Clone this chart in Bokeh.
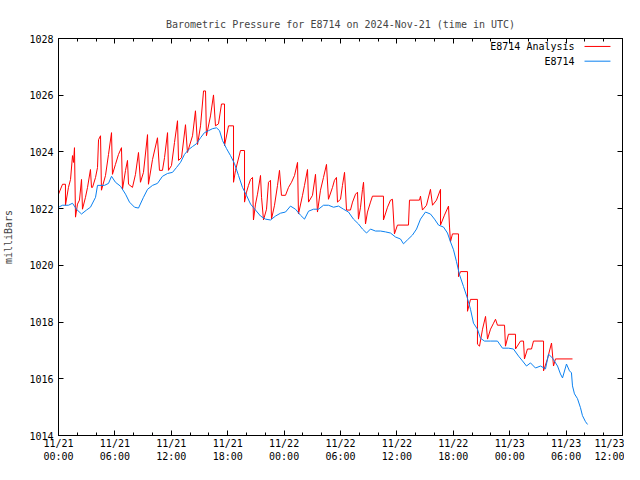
from bokeh.plotting import figure
from bokeh.models import FixedTicker, LinearAxis, Range1d, Label, Arrow
from bokeh.embed import file_html
from bokeh.resources import INLINE

# hours since 2024-11-21 00:00 UTC
blue_hours = [0.00, 0.43, 1.06, 1.49, 1.91, 2.45, 2.98, 3.40, 3.94, 4.15, 4.89, 5.32, 5.64, 6.06, 6.60,
              7.13, 7.55, 8.09, 8.51, 9.04, 9.47, 10.00, 10.53, 11.06, 11.60, 12.13, 12.55, 12.98, 13.40,
              13.83, 14.26, 14.68, 15.11, 15.53, 15.96, 16.38, 16.81, 17.13, 17.45, 17.87, 18.30, 18.72,
              19.15, 19.57, 20.00, 20.43, 20.96, 21.49, 22.02, 22.55, 23.09, 23.62, 24.15, 24.68, 25.21,
              25.74, 26.17, 26.60, 27.13, 27.66, 28.19, 28.72, 29.26, 29.79, 30.32, 30.85, 31.38, 31.91,
              32.34, 32.77, 33.19, 33.72, 34.26, 34.79, 35.32, 35.85, 36.38, 36.70, 37.13, 37.66, 38.09,
              38.51, 39.04, 39.57, 40.00, 40.43, 40.96, 41.38, 41.70, 42.02, 42.34, 42.66, 43.09, 43.51,
              43.83, 44.15, 44.57, 44.89, 45.32, 45.96, 46.70, 47.23, 47.87, 48.40, 48.94, 49.36, 49.79,
              50.21, 50.74, 51.28, 51.81, 52.13, 52.55, 53.09, 53.40, 53.62, 54.04, 54.36, 54.57, 54.68,
              54.89, 55.21, 55.53, 55.74, 56.06, 56.28]
blue_mbar = [1022.05, 1022.12, 1022.12, 1022.19, 1021.98, 1021.81, 1021.95, 1022.05, 1022.40, 1022.82,
             1022.82, 1022.89, 1023.14, 1022.93, 1022.79, 1022.51, 1022.23, 1022.05, 1022.02, 1022.40,
             1022.68, 1022.82, 1022.89, 1023.14, 1023.24, 1023.28, 1023.45, 1023.63, 1023.91, 1024.08,
             1024.19, 1024.29, 1024.50, 1024.68, 1024.75, 1024.82, 1024.85, 1024.75, 1024.40, 1024.12,
             1023.87, 1023.59, 1023.17, 1022.75, 1022.47, 1022.16, 1021.95, 1021.74, 1021.63, 1021.60,
             1021.74, 1021.84, 1021.88, 1022.09, 1021.98, 1021.77, 1021.63, 1021.91, 1021.98, 1021.98,
             1022.12, 1022.12, 1022.05, 1022.09, 1021.98, 1021.88, 1021.63, 1021.46, 1021.28, 1021.14,
             1021.28, 1021.21, 1021.21, 1021.18, 1021.14, 1021.00, 1020.93, 1020.76, 1020.90, 1021.07,
             1021.28, 1021.63, 1021.88, 1021.81, 1021.63, 1021.42, 1021.35, 1021.14, 1020.83, 1020.55,
             1020.13, 1019.67, 1019.25, 1018.83, 1018.45, 1017.96, 1017.75, 1017.43, 1017.33, 1017.33,
             1017.33, 1017.08, 1017.08, 1017.05, 1016.80, 1016.63, 1016.45, 1016.56, 1016.38, 1016.45,
             1016.35, 1016.87, 1016.73, 1016.45, 1016.17, 1016.03, 1016.52, 1016.28, 1016.21, 1015.75,
             1015.47, 1015.30, 1014.98, 1014.70, 1014.49, 1014.39]

red_hours = [0.00, 0.43, 0.74, 0.74, 1.06, 1.28, 1.49, 1.60, 1.70, 1.81, 2.02, 2.23, 2.45, 2.55, 2.87,
             3.09, 3.40, 3.51, 3.62, 3.94, 4.15, 4.26, 4.47, 4.57, 5.00, 5.32, 5.64, 5.74, 6.06, 6.38,
             6.70, 6.81, 7.13, 7.34, 7.45, 7.87, 8.19, 8.51, 8.72, 9.04, 9.47, 9.57, 10.00, 10.53, 10.74,
             11.06, 11.28, 11.60, 11.70, 12.02, 12.34, 12.66, 12.77, 13.09, 13.51, 13.72, 14.26, 14.57,
             14.79, 15.11, 15.43, 15.64, 15.74, 16.17, 16.49, 16.70, 17.02, 17.34, 17.66, 17.66, 18.09,
             18.62, 18.62, 18.83, 19.36, 19.79, 19.79, 20.00, 20.21, 20.43, 20.64, 20.74, 20.96, 21.17,
             21.49, 21.60, 21.81, 22.13, 22.34, 22.55, 22.66, 22.98, 23.30, 23.51, 23.72, 24.15, 24.47,
             24.79, 25.11, 25.43, 25.53, 25.96, 26.17, 26.49, 26.60, 27.02, 27.34, 27.55, 27.87, 28.19,
             28.51, 28.72, 29.15, 29.36, 29.57, 29.68, 30.00, 30.21, 30.43, 30.64, 31.06, 31.28, 31.60,
             31.81, 31.91, 32.13, 32.34, 32.45, 32.66, 32.87, 33.19, 33.40, 34.57, 34.57, 35.00, 35.32,
             35.53, 35.74, 36.06, 37.23, 37.34, 38.40, 38.51, 38.72, 39.15, 39.57, 39.79, 40.21, 40.64,
             40.64, 41.06, 41.49, 41.60, 41.70, 41.91, 42.55, 42.55, 42.77, 43.51, 43.51, 43.83, 44.57,
             44.57, 44.79, 45.11, 45.43, 45.64, 45.96, 46.28, 46.49, 46.70, 47.45, 47.55, 47.87, 48.62,
             48.62, 49.15, 49.47, 49.57, 49.89, 50.32, 50.53, 51.60, 51.60, 52.02, 52.23, 52.45, 52.66,
             52.87, 54.68]
red_mbar = [1022.51, 1022.86, 1022.86, 1022.12, 1022.75, 1023.03, 1023.87, 1023.63, 1024.15, 1021.70,
            1022.16, 1022.30, 1023.03, 1021.98, 1022.40, 1022.75, 1023.38, 1022.75, 1022.75, 1023.10,
            1023.45, 1024.43, 1024.57, 1022.65, 1023.17, 1023.91, 1024.68, 1023.21, 1023.56, 1023.91,
            1024.15, 1022.68, 1023.35, 1023.70, 1022.86, 1022.75, 1023.21, 1023.98, 1022.93, 1023.28,
            1024.61, 1022.86, 1023.73, 1024.50, 1023.35, 1023.35, 1023.80, 1024.68, 1023.35, 1023.52,
            1024.33, 1025.10, 1023.70, 1023.80, 1024.96, 1023.98, 1024.57, 1025.45, 1024.26, 1024.92,
            1026.15, 1026.15, 1024.57, 1025.27, 1026.01, 1024.92, 1024.99, 1025.69, 1025.69, 1024.22,
            1024.92, 1024.92, 1022.93, 1023.35, 1024.05, 1024.05, 1022.23, 1022.58, 1022.82, 1023.03,
            1023.10, 1021.60, 1022.16, 1022.51, 1023.17, 1022.40, 1021.60, 1021.98, 1022.93, 1023.00,
            1021.63, 1022.12, 1022.82, 1023.35, 1022.47, 1022.47, 1022.75, 1022.93, 1023.17, 1023.63,
            1021.81, 1022.47, 1022.82, 1023.38, 1022.23, 1022.47, 1023.21, 1021.88, 1022.65, 1023.10,
            1023.56, 1022.33, 1022.75, 1023.00, 1023.10, 1022.23, 1022.33, 1022.82, 1023.28, 1021.95,
            1021.95, 1022.23, 1022.51, 1022.58, 1021.63, 1022.05, 1022.68, 1022.93, 1021.46, 1021.88,
            1022.23, 1022.44, 1022.44, 1021.60, 1022.05, 1022.30, 1022.33, 1021.11, 1021.42, 1021.42,
            1022.30, 1022.30, 1022.44, 1021.95, 1022.12, 1022.68, 1022.12, 1022.30, 1022.68, 1021.42,
            1021.77, 1022.09, 1021.35, 1020.83, 1021.11, 1021.11, 1019.60, 1019.78, 1019.78, 1018.38,
            1018.80, 1018.80, 1017.22, 1017.15, 1017.75, 1018.20, 1017.40, 1017.75, 1017.96, 1018.10,
            1017.89, 1017.89, 1017.15, 1017.57, 1017.57, 1017.05, 1017.33, 1017.33, 1016.70, 1017.05,
            1017.05, 1017.33, 1017.33, 1016.28, 1016.70, 1016.98, 1017.26, 1016.45, 1016.70, 1016.70]

x_ticks = [0, 6, 12, 18, 24, 30, 36, 42, 48, 54, 60]
x_tick_labels = ["11/21\n00:00", "11/21\n06:00", "11/21\n12:00", "11/21\n18:00", "11/22\n00:00",
                 "11/22\n06:00", "11/22\n12:00", "11/22\n18:00", "11/23\n00:00", "11/23\n06:00",
                 "11/23\n12:00"]
x_minor = list(range(0, 61, 2))
y_ticks = [1014, 1016, 1018, 1020, 1022, 1024, 1026, 1028]

RED = "#ff0000"
BLUE = "#0a80f0"
FONT = "DejaVu Sans Mono"

p = figure(width=624, height=464, x_range=Range1d(0, 60), y_range=Range1d(1014, 1028),
           output_backend="svg", toolbar_location=None,
           title="Barometric Pressure for E8714 on 2024-Nov-21 (time in UTC)",
           min_border_left=58, min_border_right=2, min_border_top=38, min_border_bottom=26)
p.title.align = "center"
p.title.text_font = FONT
p.title.text_font_size = "10px"
p.title.text_font_style = "normal"
p.title.standoff = 17
p.xgrid.visible = False
p.ygrid.visible = False
p.outline_line_color = "black"
p.outline_line_width = 1
p.background_fill_color = "white"
p.border_fill_color = "white"

def style_axis(ax, ticker, overrides=None):
    ax.ticker = ticker
    ax.axis_line_color = "black"
    ax.major_tick_in = 5
    ax.major_tick_out = 0
    ax.minor_tick_in = 3
    ax.minor_tick_out = 0
    ax.major_tick_line_color = "black"
    ax.minor_tick_line_color = "black"
    ax.major_label_text_font = FONT
    ax.major_label_text_font_size = "10px"
    ax.major_label_text_color = "black"
    ax.major_label_standoff = 5
    if overrides is not None:
        ax.major_label_overrides = overrides

xt = FixedTicker(ticks=x_ticks, minor_ticks=x_minor)
yt = FixedTicker(ticks=y_ticks, minor_ticks=[])

style_axis(p.xaxis[0], xt, overrides={t: l for t, l in zip(x_ticks, x_tick_labels)})
p.xaxis[0].major_label_standoff = 2
style_axis(p.yaxis[0], yt, overrides={t: str(t) for t in y_ticks})
p.yaxis[0].axis_label = "milliBars"
p.yaxis[0].axis_label_text_font = FONT
p.yaxis[0].axis_label_text_font_size = "10px"
p.yaxis[0].axis_label_text_font_style = "normal"
p.yaxis[0].axis_label_standoff = 12

top = LinearAxis()
style_axis(top, FixedTicker(ticks=x_ticks, minor_ticks=x_minor), overrides={t: "" for t in x_ticks})
top.major_label_standoff = 0
p.add_layout(top, "above")
right = LinearAxis()
style_axis(right, FixedTicker(ticks=y_ticks, minor_ticks=[]), overrides={t: "" for t in y_ticks})
right.major_label_standoff = 0
p.add_layout(right, "right")

p.line(red_hours, red_mbar, line_color=RED, line_width=1)
p.line(blue_hours, blue_mbar, line_color=BLUE, line_width=1)

# gnuplot-style key (text then sample line), top right
p.add_layout(Label(x=54.9, y=1027.72, text="E8714 Analysis", text_align="right", text_baseline="middle",
                   text_font=FONT, text_font_size="10px", text_color="black"))
p.add_layout(Label(x=54.9, y=1027.20, text="E8714", text_align="right", text_baseline="middle",
                   text_font=FONT, text_font_size="10px", text_color="black"))
p.add_layout(Arrow(end=None, x_start=55.96, y_start=1027.72, x_end=58.72, y_end=1027.72,
                   line_color=RED, line_width=1))
p.add_layout(Arrow(end=None, x_start=55.96, y_start=1027.20, x_end=58.72, y_end=1027.20,
                   line_color=BLUE, line_width=1))

open("out.html", "w").write(file_html(p, INLINE))
